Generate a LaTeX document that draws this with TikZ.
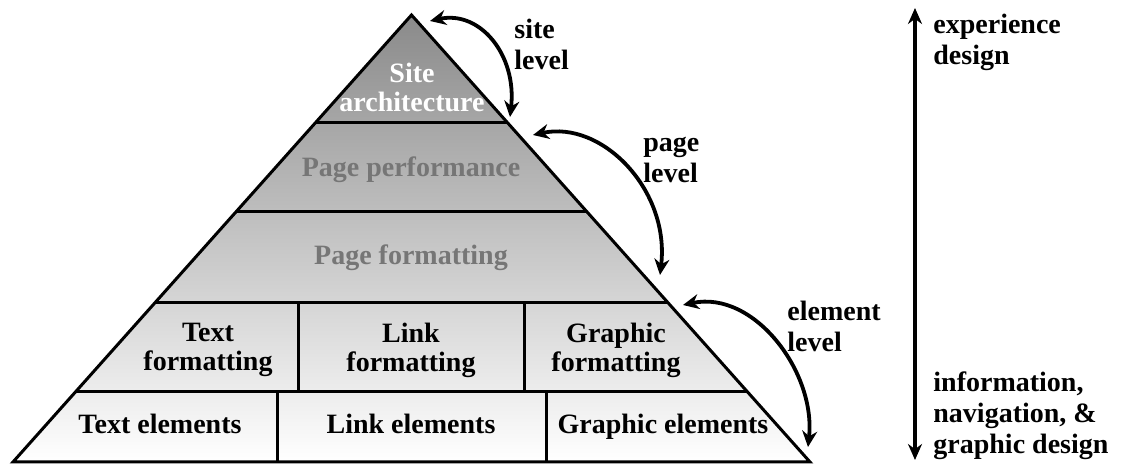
\documentclass[tikz,border=0pt]{standalone}
\usepackage{fontspec}
\setmainfont{Liberation Serif}
\usepackage{xcolor}
\usetikzlibrary{positioning,calc,arrows.meta}

\definecolor{pyrtop}{RGB}{138,138,138}
\definecolor{midtext}{RGB}{118,118,118}

\begin{document}
\begin{tikzpicture}[
  x=0.5pt, y=-0.5pt,
  lbl/.style={font=\fontsize{14}{14.5}\selectfont\bfseries, align=center, inner sep=0pt},
  sidelbl/.style={lbl, font=\fontsize{14}{15.5}\selectfont\bfseries, align=left},
  outline/.style={line width=1.5pt},
  lvl/.style={{Stealth[length=8pt,width=7.5pt]}-{Stealth[length=8pt,width=7.5pt]}, line width=1.9pt},
  designaxis/.style={{Stealth[length=8pt,width=7pt]}-{Stealth[length=8pt,width=7pt]}, line width=1.6pt}
]
\useasboundingbox (0,0) rectangle (1132,464);

% pyramid corners
\coordinate (apex) at (411.5,15);
\coordinate (baseL) at (13,462);
\coordinate (baseR) at (810,462);

% band edges on the sides
\foreach \i/\t in {1/0.2394, 2/0.4385, 3/0.6421, 4/0.8434} {
  \coordinate (L\i) at ($(apex)!\t!(baseL)$);
  \coordinate (R\i) at ($(apex)!\t!(baseR)$);
}

\shade[top color=pyrtop, bottom color=white] (apex) -- (baseL) -- (baseR) -- cycle;

\foreach \i in {1,...,4}
  \draw[outline] (L\i) -- (R\i);
\draw[outline] (298,302) -- (298,392);
\draw[outline] (524,302) -- (524,392);
\draw[outline] (277,392) -- (277,462);
\draw[outline] (546,392) -- (546,462);
\draw[outline, line join=miter] (apex) -- (baseL) -- (baseR) -- cycle;

% band labels
\node[lbl, text=white] (site) at (412,87) {Site\\architecture};
\node[lbl, text=midtext, anchor=base] (perf) at (411,177) {Page performance};
\node[lbl, text=midtext, anchor=base] (pfmt) at (411,265) {Page formatting};

\node[lbl] (tfmt) at (208,350) {Text\\formatting};
\node[lbl] (lfmt) at (411,350) {Link\\formatting};
\node[lbl] (gfmt) at (616,350) {Graphic\\formatting};

\node[lbl, anchor=base] (tel) at (160,434) {Text elements};
\node[lbl, anchor=base] (lel) at (411,434) {Link elements};
\node[lbl, anchor=base] (gel) at (663,434) {Graphic elements};

% level arrows
\coordinate (s1) at (430,21);
\coordinate (s2) at (510,117);
\coordinate (p1) at (533,135);
\coordinate (p2) at (660,275);
\coordinate (e1) at (683,305);
\coordinate (e2) at (808,447);
\draw[lvl] (s1) .. controls (480,10) and (517,55) .. (s2);
\draw[lvl] (p1) .. controls (602,120) and (670,190) .. (p2);
\draw[lvl] (e1) .. controls (754,290) and (816,372) .. (e2);

\node[sidelbl, anchor=west] (sitelvl) at (514,44) {site\\level};
\node[sidelbl, anchor=west] (pagelvl) at (643,160) {page\\level};
\node[sidelbl, anchor=west] (ellvl) at (787,326) {element\\level};

% design scale
\coordinate (top) at (915,8);
\coordinate (bot) at (915,460);
\draw[designaxis] (bot) -- (top);
\node[sidelbl, anchor=north west] (exp) at (933,14) {experience\\design};
\node[sidelbl, anchor=south west] (info) at (933,460) {information,\\navigation, \&\\graphic design};
\end{tikzpicture}
\end{document}
